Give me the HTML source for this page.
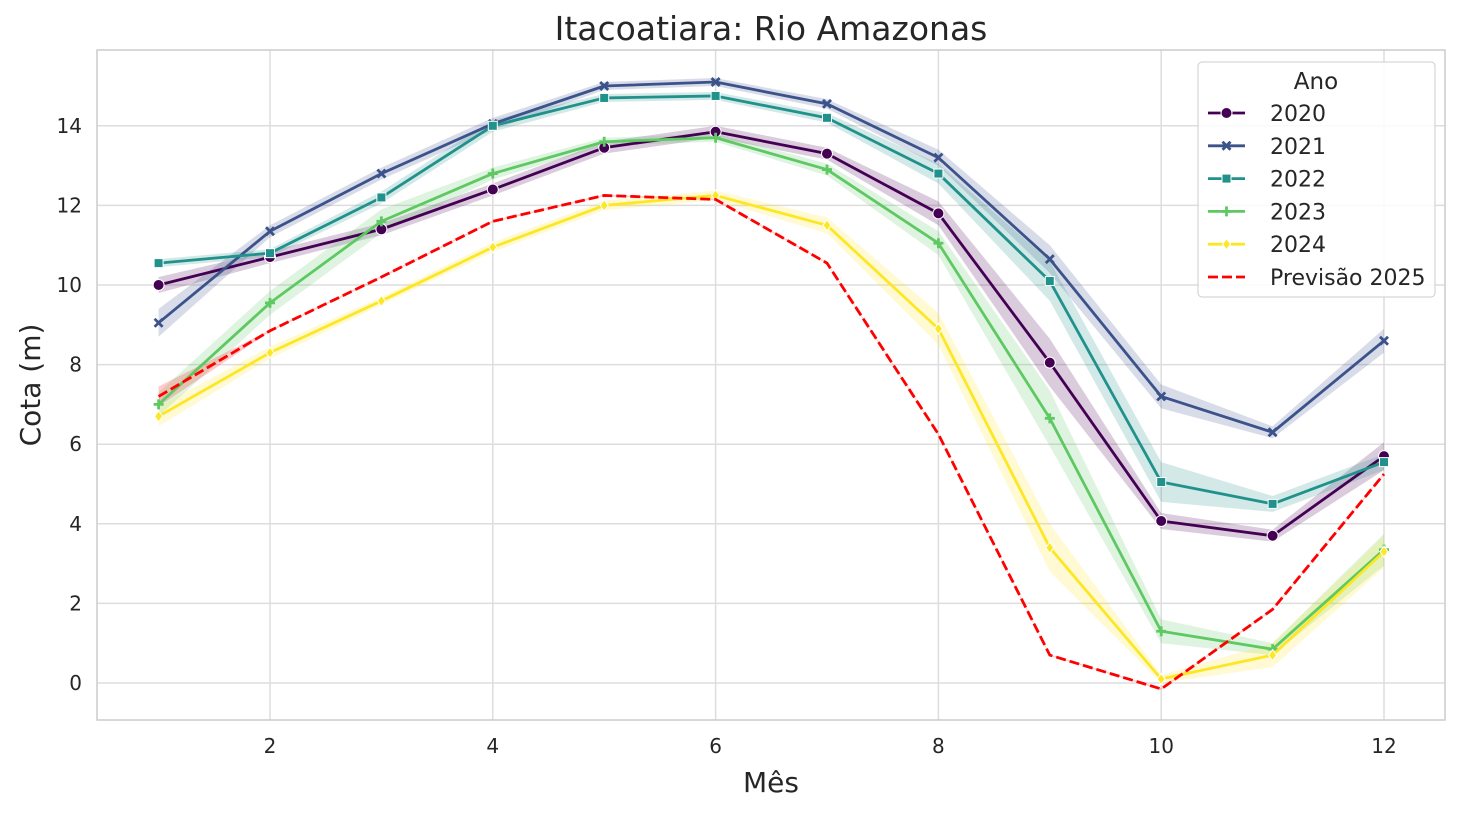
<!DOCTYPE html>
<html><head><meta charset="utf-8"><style>
body{margin:0;background:#fff;}
svg text{font-family:"DejaVu Sans","Liberation Sans",sans-serif;fill:#262626;}
</style></head><body>
<svg id="s" width="1460" height="811" xmlns="http://www.w3.org/2000/svg">
<rect width="1460" height="811" fill="#fff"/>
<g id="grid"></g>
<g id="bands"></g>
<g id="lines"></g>
<rect x="97" y="50" width="1348" height="670" fill="none" stroke="#cccccc" stroke-width="1.5"/>
<text x="771" y="40" font-size="33" text-anchor="middle">Itacoatiara: Rio Amazonas</text>
<text x="771" y="792" font-size="28" text-anchor="middle">Mês</text>
<text x="40" y="385" font-size="28" text-anchor="middle" transform="rotate(-90 40 385)">Cota (m)</text>
<g id="ticks"></g>
<g id="legend"></g>
</svg>
<script>
const NS="http://www.w3.org/2000/svg";
const X=m=>158.6+(m-1)*111.4, Y=v=>683-39.8*v;
function el(p,t,a,txt){const e=document.createElementNS(NS,t);for(const k in a)e.setAttribute(k,a[k]);if(txt!==undefined)e.textContent=txt;document.getElementById(p).appendChild(e);return e;}
for(let m=2;m<=12;m+=2){el('grid','line',{x1:X(m),x2:X(m),y1:50,y2:720,stroke:'#dddddd','stroke-width':1.5});el('ticks','text',{x:X(m),y:753,'font-size':20,'text-anchor':'middle'},m);}
for(let v=0;v<=14;v+=2){el('grid','line',{x1:97,x2:1445,y1:Y(v),y2:Y(v),stroke:'#dddddd','stroke-width':1.5});el('ticks','text',{x:82,y:Y(v)+7,'font-size':20,'text-anchor':'end'},v);}
const S=[
['2020','#440154','o',[10.0,10.7,11.4,12.4,13.45,13.85,13.3,11.8,8.05,4.07,3.7,5.7],[.2,.15,.15,.15,.15,.15,.15,.3,.6,.2,.15,.35]],
['2021','#3b528b','x',[9.05,11.35,12.8,14.05,15.0,15.1,14.55,13.2,10.65,7.2,6.3,8.6],[.35,.15,.15,.15,.1,.1,.12,.2,.35,.3,.15,.3]],
['2022','#21918c','s',[10.55,10.8,12.2,14.0,14.7,14.75,14.2,12.8,10.1,5.05,4.5,5.55],[.1,.1,.15,.15,.1,.1,.12,.25,.5,.5,.2,.2]],
['2023','#5ec962','+',[7.0,9.55,11.6,12.8,13.6,13.7,12.9,11.05,6.65,1.3,0.85,3.35],[.3,.3,.3,.15,.1,.1,.15,.3,.7,.3,.15,.4]],
['2024','#fde725','d',[6.7,8.3,9.6,10.95,12.0,12.25,11.5,8.9,3.4,0.1,0.7,3.3],[.25,.15,.1,.12,.12,.12,.2,.4,.6,.1,.3,.4]],
];
const P=[7.2,8.85,10.2,11.6,12.25,12.15,10.55,6.25,0.7,-0.15,1.85,5.25];
function marker(g,t,x,y,c){
 if(t=='o')el(g,'circle',{cx:x,cy:y,r:5.5,fill:c,stroke:'#fff','stroke-width':1});
 else if(t=='s')el(g,'rect',{x:x-4.5,y:y-4.5,width:9,height:9,fill:c,stroke:'#fff','stroke-width':1});
 else if(t=='d')el(g,'polygon',{points:`${x},${y-5.5} ${x+4},${y} ${x},${y+5.5} ${x-4},${y}`,fill:c,stroke:'#fff','stroke-width':1});
 else if(t=='x'){el(g,'path',{d:`M${x-4} ${y-4}L${x+4} ${y+4}M${x-4} ${y+4}L${x+4} ${y-4}`,stroke:c,'stroke-width':2.8});}
 else {el(g,'path',{d:`M${x-5} ${y}L${x+5} ${y}M${x} ${y-5}L${x} ${y+5}`,stroke:c,'stroke-width':2.8});}
}
S.forEach(([n,c,mk,d,e])=>{
 let up=d.map((v,i)=>X(i+1)+','+Y(v+e[i])), dn=d.map((v,i)=>X(i+1)+','+Y(v-e[i])).reverse();
 el('bands','polygon',{points:up.concat(dn).join(' '),fill:c,'fill-opacity':0.2});
});
S.forEach(([n,c,mk,d])=>{
 el('lines','polyline',{points:d.map((v,i)=>X(i+1)+','+Y(v)).join(' '),fill:'none',stroke:c,'stroke-width':2.8,'stroke-linejoin':'round'});
 d.forEach((v,i)=>marker('lines',mk,X(i+1),Y(v),c));
});
let pu=P.map((v,i)=>X(i+1)+','+Y(v+(i==0?.25:0.02))),pd=P.map((v,i)=>X(i+1)+','+Y(v-(i==0?.25:0.02))).reverse();
el('bands','polygon',{points:pu.concat(pd).join(' '),fill:'red','fill-opacity':0.2});
el('lines','polyline',{points:P.map((v,i)=>X(i+1)+','+Y(v)).join(' '),fill:'none',stroke:'red','stroke-width':2.8,'stroke-dasharray':'10,4'});
el('legend','rect',{x:1198,y:62,width:237,height:235,rx:4,fill:'#fff','fill-opacity':0.85,stroke:'#cccccc'});
el('legend','text',{x:1316,y:89,'font-size':23,'text-anchor':'middle'},'Ano');
const L=[...S.map(s=>[s[0],s[1],s[2]]),['Previsão 2025','red',null]];
L.forEach(([n,c,mk],i)=>{const y=113+i*32.8;
 if(mk){el('legend','line',{x1:1208,x2:1245,y1:y,y2:y,stroke:c,'stroke-width':2.8});marker('legend',mk,1226.5,y,c);}
 else el('legend','line',{x1:1208,x2:1245,y1:y,y2:y,stroke:c,'stroke-width':2.8,'stroke-dasharray':'10,4'});
 el('legend','text',{x:1270,y:y+8,'font-size':22},n);
});
</script>
</body></html>
